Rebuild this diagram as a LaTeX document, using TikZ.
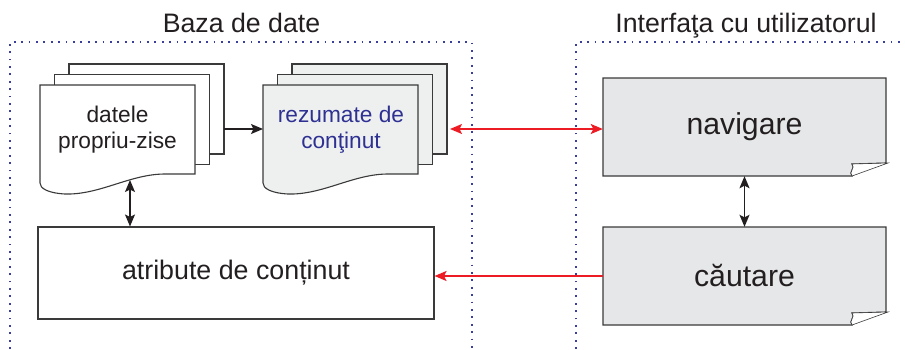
\documentclass[tikz,border=0pt]{standalone}
\usepackage{fontspec}
\setmainfont{Liberation Sans}
\usetikzlibrary{arrows.meta}

\definecolor{ink}{HTML}{231F20}
\definecolor{edge}{HTML}{3A3A3A}
\definecolor{dotblue}{HTML}{3B3F9C}
\definecolor{arrred}{HTML}{ED1C24}
\definecolor{sumfill}{HTML}{EEF0F0}
\definecolor{uifill}{HTML}{E6E7E8}
\definecolor{sumtext}{HTML}{2E3192}

% stack of three pages with a wavy bottom on the front page; #1 = left x, #2 = fill
\newcommand\docstack[2]{%
  \foreach \k in {2,1}{%
    \filldraw[sheet, fill=#2] (#1+\k*14.5, 85-\k*10.5) rectangle ++(155,90);
  }
  \filldraw[sheet, fill=#2] (#1,85) -- (#1+155,85) -- (#1+155,174) -- (#1+125,174)
    .. controls (#1+90,174) and (#1+60,195) .. (#1+25,194)
    .. controls (#1+7,193) and (#1,188) .. (#1,183) -- cycle;
}

% grey page with a curled lower right corner; #1 = left x, #2 = top y
\newcommand\uipage[2]{%
  \filldraw[sheet, fill=uifill] (#1,#2) -- (#1+283,#2) -- (#1+283,#2+85) -- (#1+249,#2+86)
    .. controls (#1+253,#2+90) and (#1+245,#2+94) .. (#1+249,#2+98) -- (#1,#2+98) -- cycle;
  \filldraw[draw=edge, line width=0.6pt, fill=white] (#1+249,#2+86)
    .. controls (#1+253,#2+90) and (#1+245,#2+94) .. (#1+249,#2+98) -- (#1+285,#2+85) -- cycle;
}

\begin{document}
\begin{tikzpicture}[x=1pt, y=-1pt,
  sheet/.style={draw=edge, line width=1.1pt},
  frame/.style={draw=dotblue, line width=1.8pt, dash pattern=on 1.8pt off 5.6pt},
  title/.style={font=\fontsize{26.7}{30}\selectfont, text=ink, anchor=base, inner sep=0pt},
  doctext/.style={font=\fontsize{22.7}{26}\selectfont, align=center, inner sep=0pt},
  uitext/.style={font=\fontsize{30.2}{34}\selectfont, text=ink, minimum width=283pt,
                 minimum height=98pt, inner sep=0pt},
  >={Stealth[length=12pt, width=10pt, inset=2.5pt]},
  blk/.style={draw=ink, line width=1.3pt},
  redarrow/.style={draw=arrred, line width=1.6pt}]

\useasboundingbox (0,0) rectangle (905,349);

% group frames
\draw[frame] (10,349) -- (10,42) -- (472,42) -- (472,349);
\draw[frame] (576,349) -- (576,42) -- (905,42);
\node[title] (tdb) at (241.5,32) {Baza de date};
\node[title] (tui) at (746,32) {Interfaţa cu utilizatorul};

% data stacks
\docstack{40}{white}
\docstack{263}{sumfill}
\node[doctext, text=ink] (dat) at (117.5,130) {datele\\propriu-zise};
\node[doctext, text=sumtext] (sum) at (341,130) {rezumate de\\conţinut};

% content attributes
\node[draw=edge, line width=1.1pt, minimum width=396pt, minimum height=92pt,
      font=\fontsize{26.8}{30}\selectfont, text=ink, inner sep=0pt]
  (atr) at (236,273) {atribute de conținut};

% user interface pages
\uipage{603}{78}
\uipage{603}{227}
\node[uitext] (nav) at (744.5,127) {navigare};
\node[uitext] (cau) at (744.5,276) {căutare};

% connectors
\coordinate (datE) at (224,129);
\coordinate (sumW) at (263,129);
\coordinate (sumE) at (450,129);
\coordinate (datS) at (130,180);
\draw[blk, ->] (datE) -- (sumW);
\draw[blk, <->] (datS) -- (datS |- atr.north);
\draw[blk, <->] (nav.south) -- (cau.north);
\draw[redarrow, <->] (sumE) -- (nav.west |- sumE);
\draw[redarrow, ->] (cau.west) -- (cau.west -| atr.east);
\end{tikzpicture}
\end{document}
